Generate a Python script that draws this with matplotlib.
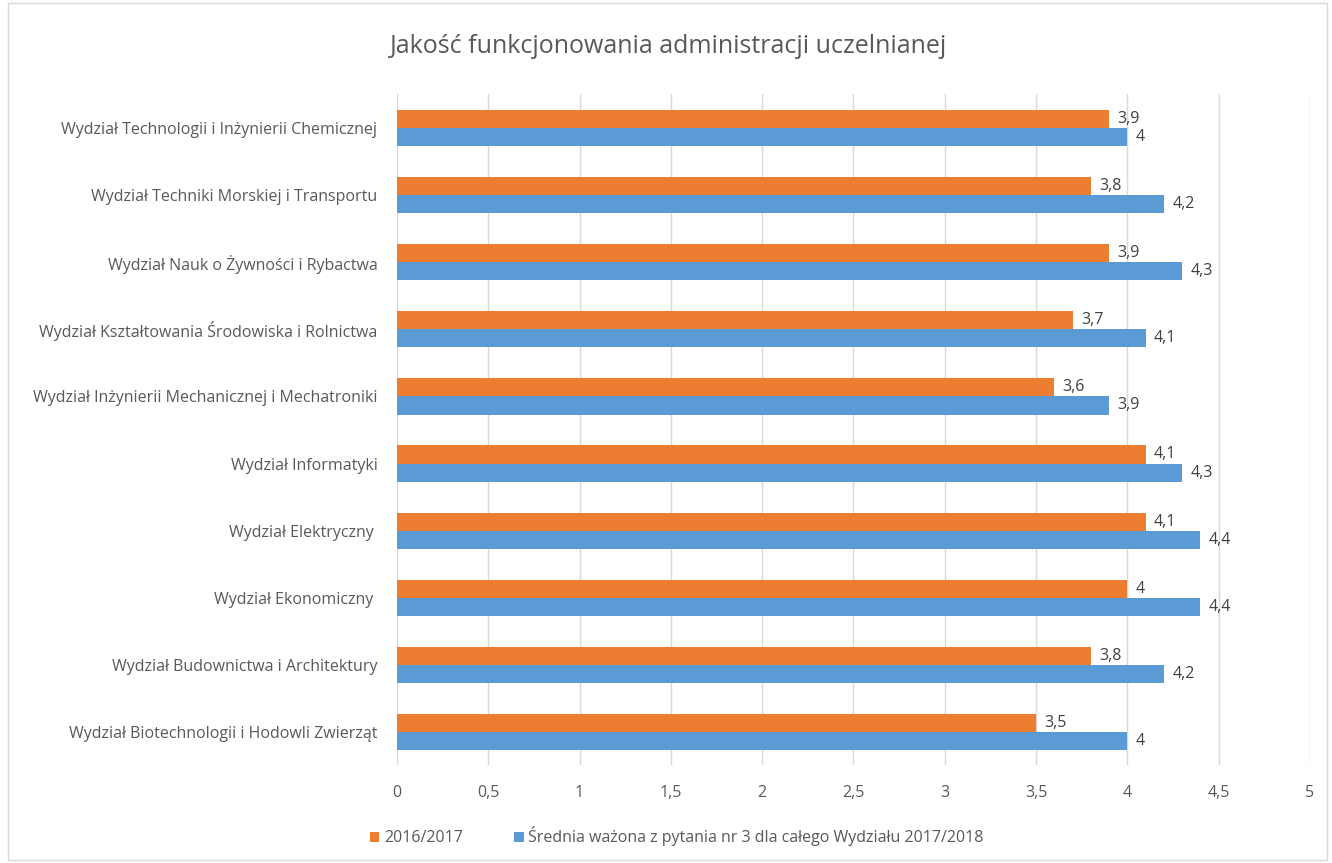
import matplotlib
matplotlib.use("Agg")
import matplotlib.pyplot as plt
import numpy as np
from matplotlib.font_manager import fontManager

names = {f.name for f in fontManager.ttflist}
fam = ['Liberation Sans Narrow', 'DejaVu Sans'] if 'Liberation Sans Narrow' in names else ['Open Sans', 'DejaVu Sans']
plt.rcParams['font.family'] = fam

categories = [
    "Wydział Biotechnologii i Hodowli Zwierząt",
    "Wydział Budownictwa i Architektury",
    "Wydział Ekonomiczny ",
    "Wydział Elektryczny ",
    "Wydział Informatyki",
    "Wydział Inżynierii Mechanicznej i Mechatroniki",
    "Wydział Kształtowania Środowiska i Rolnictwa",
    "Wydział Nauk o Żywności i Rybactwa",
    "Wydział Techniki Morskiej i Transportu",
    "Wydział Technologii i Inżynierii Chemicznej",
]
vals_2016 = [3.5, 3.8, 4.0, 4.1, 4.1, 3.6, 3.7, 3.9, 3.8, 3.9]
vals_2018 = [4.0, 4.2, 4.4, 4.4, 4.3, 3.9, 4.1, 4.3, 4.2, 4.0]
series_names = ["2016/2017", "Średnia ważona z pytania nr 3 dla całego Wydziału 2017/2018"]
xticks = [0, 0.5, 1, 1.5, 2, 2.5, 3, 3.5, 4, 4.5, 5]
title = "Jakość funkcjonowania administracji uczelnianej"

c_orange = '#ED7D31'
c_blue = '#5B9BD5'
txt = '#595959'

fig = plt.figure(figsize=(13.32, 8.63), dpi=100)
ax = fig.add_axes([0.298, 0.113, 0.6855, 0.7775])

y = np.arange(len(categories))
h = 0.27
b1 = ax.barh(y + h/2, vals_2016, height=h, color=c_orange, label=series_names[0], zorder=3)
b2 = ax.barh(y - h/2, vals_2018, height=h, color=c_blue, label=series_names[1], zorder=3)

def fmt(v):
    return ('%g' % v).replace('.', ',')

for bars, vals in ((b1, vals_2016), (b2, vals_2018)):
    for r, v in zip(bars, vals):
        ax.annotate(fmt(v), (v, r.get_y() + r.get_height()/2), xytext=(6, 0),
                    textcoords='offset points', ha='left', va='center',
                    fontsize=11.5, color='#404040', zorder=4)

ax.set_xlim(0, 5)
ax.set_ylim(-0.5, len(categories) - 0.5)
ax.set_xticks(xticks)
ax.set_xticklabels([fmt(t) for t in xticks], fontsize=11.5, color=txt)
ax.set_yticks(y)
ax.set_yticklabels(categories, fontsize=11.5, color=txt)
ax.tick_params(axis='both', length=0)
ax.tick_params(axis='x', pad=14)
ax.tick_params(axis='y', pad=14)
ax.grid(axis='x', color='#D9D9D9', linewidth=1, zorder=0)
for s in ax.spines.values():
    s.set_visible(False)

fig.text(0.502, 0.946, title, ha='center', va='center', fontsize=18, color=txt)

leg = fig.legend(handles=[b1, b2], labels=series_names, loc='center', bbox_to_anchor=(0.508, 0.031),
                 ncol=2, frameon=False, fontsize=11.5, handlelength=0.6, handleheight=0.6,
                 handletextpad=0.3, columnspacing=3.2)
for t in leg.get_texts():
    t.set_color(txt)

border = plt.Rectangle((0.006, 0.004), 0.99, 0.992, transform=fig.transFigure,
                       fill=False, edgecolor='#D9D9D9', linewidth=1)
fig.patches.append(border)

fig.savefig('out.png', dpi=100)
